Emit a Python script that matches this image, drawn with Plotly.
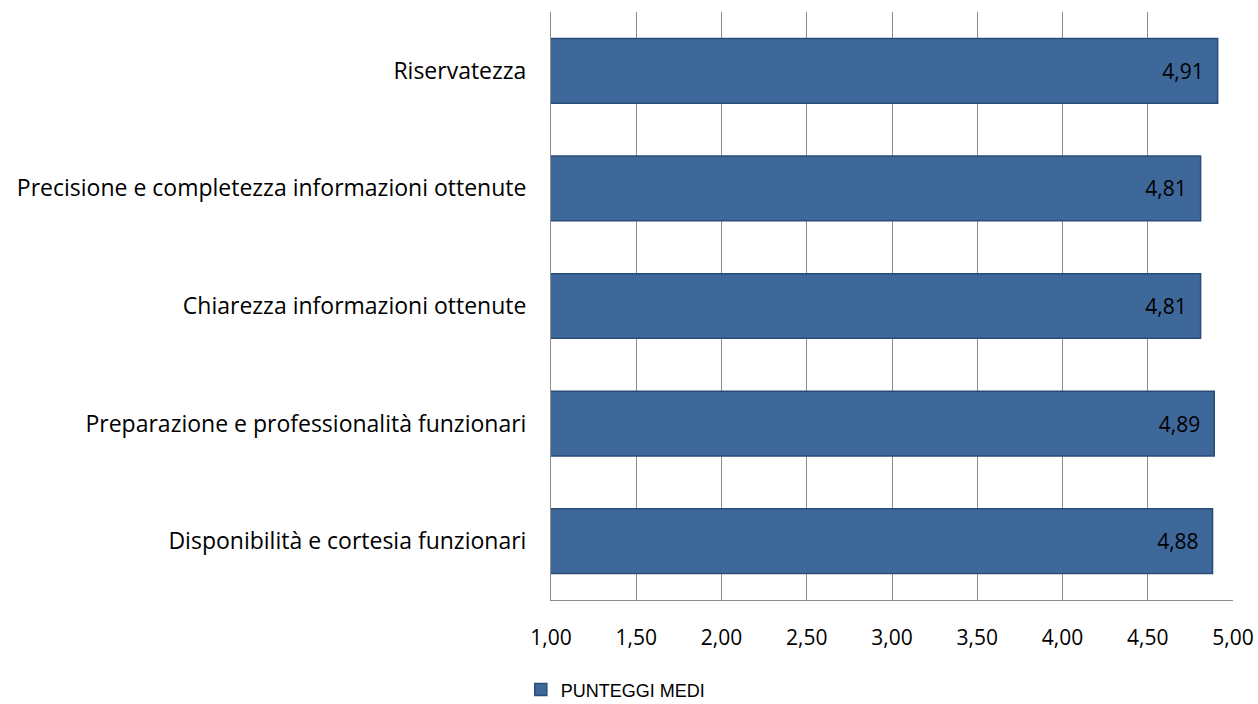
import plotly.graph_objects as go

categories = [
    "Disponibilità e cortesia funzionari",
    "Preparazione e professionalità funzionari",
    "Chiarezza informazioni ottenute",
    "Precisione e completezza informazioni ottenute",
    "Riservatezza",
]
values = [4.88, 4.89, 4.81, 4.81, 4.91]
series_name = "PUNTEGGI MEDI"
x_ticks = [1.0, 1.5, 2.0, 2.5, 3.0, 3.5, 4.0, 4.5, 5.0]

FONT = "Open Sans, Lato, sans-serif"

fig = go.Figure()
fig.add_trace(go.Bar(
    y=categories,
    x=values,
    orientation="h",
    name=series_name,
    marker=dict(color="#3E6899", line=dict(color="#2A4C78", width=1.5)),
    texttemplate="%{x:.2f}\u00a0\u00a0",
    textposition="inside",
    insidetextanchor="end",
    textfont=dict(family=FONT, size=21, color="#000000"),
    showlegend=True,
))

fig.update_layout(
    width=1258,
    height=704,
    paper_bgcolor="white",
    plot_bgcolor="white",
    separators=",.",
    margin=dict(l=551, r=25, t=12, b=104, autoexpand=False),
    bargap=0.45,
    xaxis=dict(
        range=[1, 5],
        tickvals=x_ticks,
        tickformat=".2f",
        showgrid=True,
        gridcolor="#8C8C8C",
        gridwidth=1,
        showline=True,
        linecolor="#8C8C8C",
        linewidth=1,
        zeroline=False,
        ticks="",
        ticklabelstandoff=19,
        tickfont=dict(family=FONT, size=21, color="#000000"),
    ),
    yaxis=dict(
        showgrid=False,
        showline=True,
        linecolor="#8C8C8C",
        linewidth=1,
        ticks="",
        ticklabelstandoff=19,
        tickfont=dict(family=FONT, size=23, color="#000000"),
    ),
    legend=dict(
        orientation="h",
        xref="container",
        yref="container",
        x=0.414,
        xanchor="left",
        y=0.02,
        yanchor="middle",
        tracegroupgap=0,
        font=dict(family="Liberation Sans, Arial, sans-serif", size=18, color="#000000"),
        itemwidth=30,
    ),
)

fig.write_html(
    "out.html",
    config={"displayModeBar": False},
    post_script="document.body.style.margin='0';",
)
